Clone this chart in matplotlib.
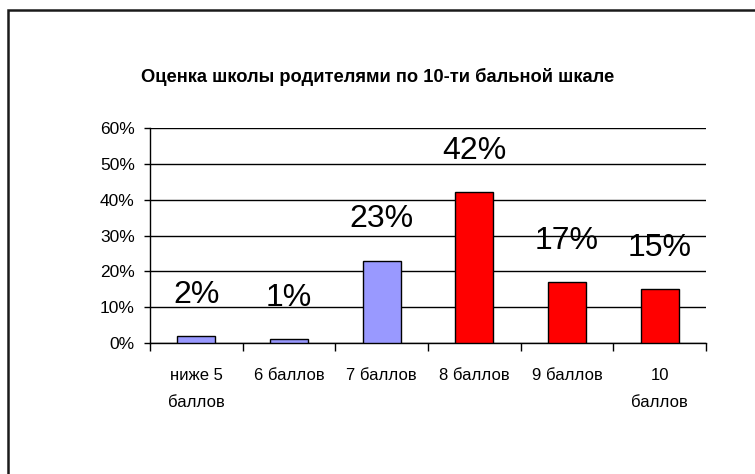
import matplotlib
matplotlib.use("Agg")
import matplotlib.pyplot as plt
from matplotlib.patches import Rectangle
from matplotlib.ticker import FixedLocator

categories = ["ниже 5\nбаллов", "6 баллов", "7 баллов", "8 баллов", "9 баллов", "10\nбаллов"]
values = [2, 1, 23, 42, 17, 15]
labels = ["2%", "1%", "23%", "42%", "17%", "15%"]
bar_colors = ["#9999FF", "#9999FF", "#9999FF", "#FF0000", "#FF0000", "#FF0000"]
yticks = [0, 10, 20, 30, 40, 50, 60]
ytick_labels = ["0%", "10%", "20%", "30%", "40%", "50%", "60%"]
title = "Оценка школы родителями по 10-ти бальной шкале"

narrow = ["Liberation Sans Narrow", "Liberation Sans", "DejaVu Sans"]
regular = ["Liberation Sans", "DejaVu Sans"]

fig = plt.figure(figsize=(7.55, 4.74), dpi=100)
fig.patch.set_facecolor("white")

# outer frame
fig.add_artist(Rectangle((8 / 755, -0.1), 1.2, 1.1 - 10 / 474,
                         transform=fig.transFigure, fill=False,
                         edgecolor="#1a1a1a", linewidth=1.8))

ax = fig.add_axes([150 / 755, 1 - 343 / 474, (706 - 150) / 755, (343 - 128) / 474])
x = list(range(len(categories)))
ax.bar(x, values, width=0.41, color=bar_colors, edgecolor="black", linewidth=1.0, zorder=3)

ax.set_xlim(-0.5, len(categories) - 0.5)
ax.set_ylim(0, 60)
ax.set_yticks(yticks)
ax.set_yticklabels(ytick_labels, family=regular, fontsize=12.5)
ax.yaxis.grid(True, color="black", linewidth=1.0, zorder=0)
ax.set_axisbelow(True)

ax.set_xticks(x)
ax.set_xticklabels(categories, family=regular, fontsize=12, linespacing=2.0, va="top")
ax.tick_params(axis="x", which="major", length=0, pad=18)
ax.xaxis.set_minor_locator(FixedLocator([i - 0.5 for i in range(len(categories) + 1)]))
ax.tick_params(axis="x", which="minor", length=6, width=1, color="black", direction="out")
ax.tick_params(axis="y", length=4, width=1, color="black", direction="out", pad=7)

for s in ["top", "right"]:
    ax.spines[s].set_visible(False)
for s in ["left", "bottom"]:
    ax.spines[s].set_color("black")
    ax.spines[s].set_linewidth(1.0)

for xi, v, lab in zip(x, values, labels):
    ax.annotate(lab, (xi, v), xytext=(0, 24), textcoords="offset points",
                ha="center", va="baseline", family=narrow, fontsize=23, zorder=4)

fig.text(0.50, 1 - 77 / 474, title, ha="center", va="center",
         family=narrow, fontweight="bold", fontsize=13.2)

fig.savefig("out.png", dpi=100, facecolor="white")
